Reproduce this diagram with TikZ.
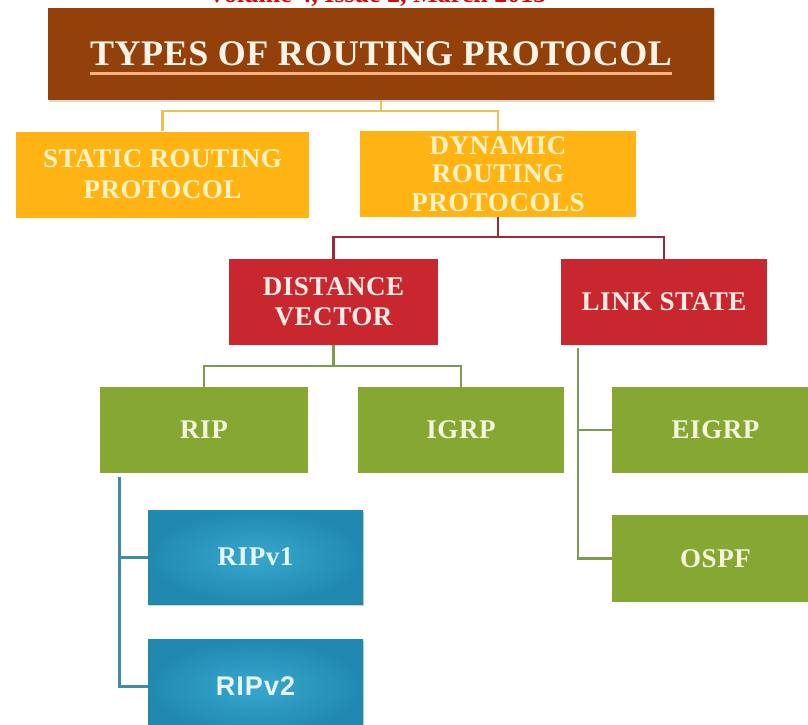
\documentclass[tikz,border=0pt]{standalone}
\usepackage{fontspec}
\usetikzlibrary{shadows}

\newfontfamily\boxfont[LetterSpace=2]{Liberation Serif}
\newfontfamily\titlefont[LetterSpace=1.5]{Liberation Serif}
\newfontfamily\sansboxfont[LetterSpace=4]{Liberation Sans}
\newfontfamily\headfont{Liberation Serif}

\definecolor{headred}{HTML}{D40A0A}
\definecolor{titlebrown}{HTML}{94400A}
\definecolor{titletxt}{HTML}{FCF4E6}
\definecolor{titleline}{HTML}{F4B382}
\definecolor{boxyellow}{HTML}{FFB414}
\definecolor{txtyellow}{HTML}{FFF3C4}
\definecolor{boxred}{HTML}{C9272F}
\definecolor{txtred}{HTML}{FBECE6}
\definecolor{boxgreen}{HTML}{86A832}
\definecolor{txtgreen}{HTML}{F3F6DC}
\definecolor{blueinner}{HTML}{38A8CE}
\definecolor{blueouter}{HTML}{2189B0}
\definecolor{txtblue}{HTML}{E6F6F8}
\definecolor{lnyellow}{HTML}{EDC052}
\definecolor{lnred}{HTML}{9B2B3A}
\definecolor{lngreen}{HTML}{80994E}
\definecolor{lnblue}{HTML}{3F8CA8}

\tikzset{
  box/.style={rectangle, inner sep=0pt, align=center,
    font=\boxfont\bfseries\fontsize{27}{30}\selectfont},
  yellowbox/.style={box, fill=boxyellow, text=txtyellow, minimum height=86pt},
  redbox/.style={box, fill=boxred, text=txtred, minimum height=86pt},
  greenbox/.style={box, fill=boxgreen, text=txtgreen, minimum height=86pt},
  bluebox/.style={box, inner color=blueinner, outer color=blueouter, text=txtblue,
    minimum width=215pt, minimum height=94pt,
    drop shadow={opacity=0.35, shadow xshift=1pt, shadow yshift=-1.5pt}},
  titlebox/.style={rectangle, fill=titlebrown, inner sep=0pt,
    minimum width=666pt, minimum height=92pt,
    drop shadow={opacity=0.3, shadow xshift=1pt, shadow yshift=-1.5pt}},
  titletext/.style={inner sep=0pt, text=titletxt,
    font=\titlefont\bfseries\fontsize{36}{38}\selectfont},
  link/.style={line width=2.4pt, line join=miter},
  ylink/.style={link, draw=lnyellow, line width=2.2pt},
  rlink/.style={link, draw=lnred},
  glink/.style={link, draw=lngreen},
  blink/.style={link, draw=lnblue, line width=3pt},
}

\begin{document}
\begin{tikzpicture}[x=1pt, y=-1pt]
  \clip (0,0) rectangle (808,725);
  \fill[white] (0,0) rectangle (808,725);

  % journal header, cut by the top edge
  \node[anchor=base, inner sep=0pt, text=headred,
        font=\headfont\bfseries\fontsize{26}{28}\selectfont]
        (header) at (377,3) {Volume 4, Issue 2, March 2015};

  % title banner
  \node[titlebox] (title) at (381,54) {};
  \node[titletext] (ttl) at (381,54) {TYPES OF ROUTING PROTOCOL};
  \draw[titleline, line width=3pt]
    ([yshift=-8pt]ttl.base west) -- ([yshift=-8pt]ttl.base east);

  % level 1
  \node[yellowbox, minimum width=293pt, font=\boxfont\bfseries\fontsize{27}{31}\selectfont]
    (static) at (162.5,174.5) {STATIC ROUTING\\PROTOCOL};
  \node[yellowbox, minimum width=276pt, font=\boxfont\bfseries\fontsize{27}{28.5}\selectfont]
    (dynamic) at (498,174) {DYNAMIC\\ROUTING\\PROTOCOLS};

  % level 2
  \node[redbox, minimum width=209pt] (dv) at (333.5,302) {DISTANCE\\VECTOR};
  \node[redbox, minimum width=206pt] (ls) at (664,302) {LINK STATE};

  % level 3
  \node[greenbox, minimum width=208pt] (rip)   at (204,430)   {RIP};
  \node[greenbox, minimum width=206pt] (igrp)  at (461,430)   {IGRP};
  \node[greenbox, minimum width=207pt] (eigrp) at (715.5,430) {EIGRP};
  \node[greenbox, minimum width=207pt, minimum height=87pt]
    (ospf) at (715.5,558.5) {OSPF};

  % RIP versions
  \node[bluebox] (ripv1) at (255.5,557) {RIPv1};
  \node[bluebox, font=\sansboxfont\bfseries\fontsize{27}{30}\selectfont]
    (ripv2) at (255.5,686.5) {RIPv2};

  % connectors
  \draw[ylink] (title.south) -- ++(0,11) coordinate (yj);
  \draw[ylink] (static.north) |- (yj) -| (dynamic.north);

  \draw[rlink] (dynamic.south) -- ++(0,20) coordinate (rj);
  \draw[rlink] (dv.north) |- (rj) -| (ls.north);

  \draw[glink] (dv.south) -- ++(0,21) coordinate (gj);
  \draw[glink] (rip.north) |- (gj) -| (igrp.north);

  \coordinate (lstop) at ([xshift=17pt,yshift=-3pt]ls.south west);
  \draw[glink] (lstop) |- (ospf.west);
  \draw[glink] (lstop |- eigrp.west) -- (eigrp.west);

  \coordinate (riptop) at ([xshift=20pt,yshift=-4pt]rip.south west);
  \draw[blink] (riptop) |- (ripv2.west);
  \draw[blink] (riptop |- ripv1.west) -- (ripv1.west);
\end{tikzpicture}
\end{document}
